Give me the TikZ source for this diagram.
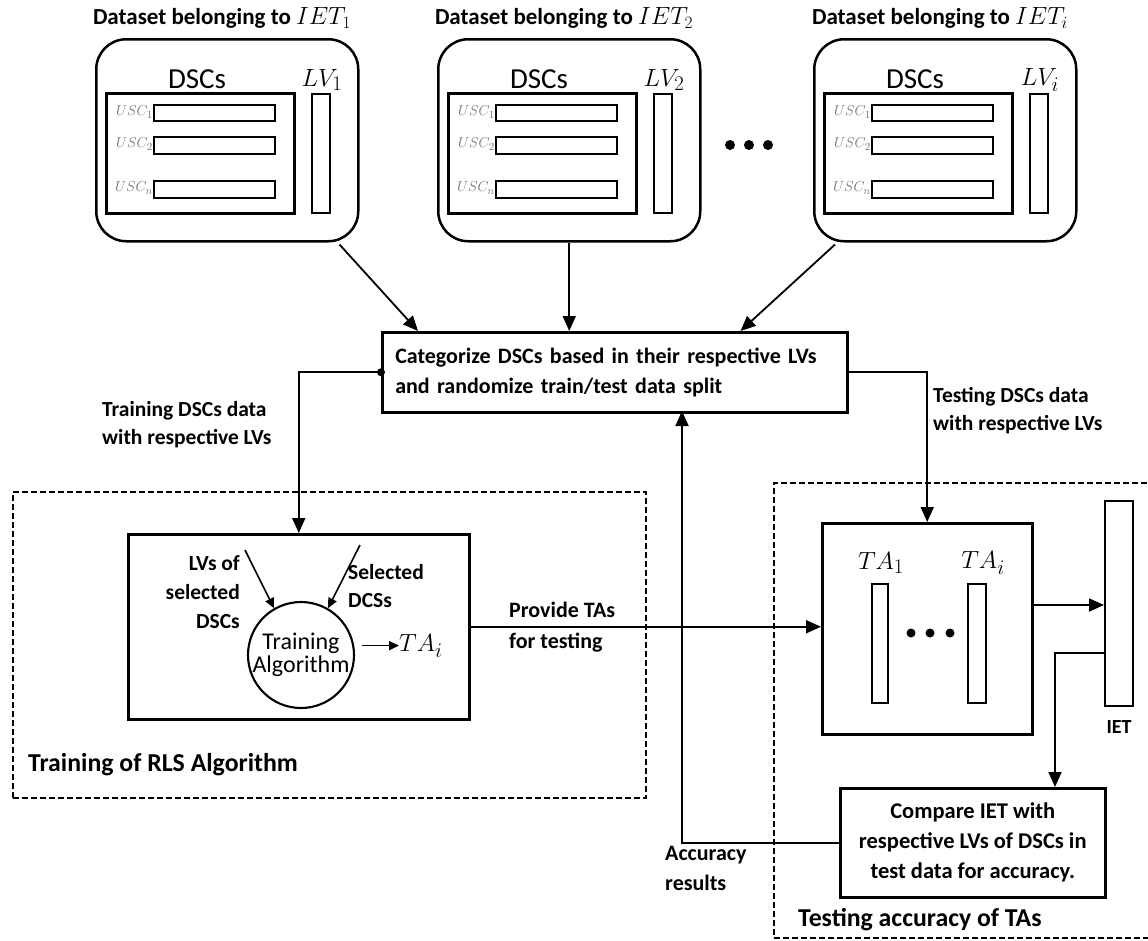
\documentclass[tikz,border=0pt]{standalone}
\usepackage{fontspec}
\setmainfont{Carlito}
\usetikzlibrary{arrows.meta,calc}

\begin{document}
\begin{tikzpicture}[x=1pt,y=-1pt,
  every node/.style={inner sep=0pt},
  frame/.style={draw, line width=2.5pt, anchor=north west, inner sep=0pt},
  rbox/.style={frame, rounded corners=30pt},
  bar/.style={draw, line width=2.1pt, anchor=north west, fill=white, inner sep=0pt},
  zone/.style={draw, line width=1.5pt, dash pattern=on 6pt off 3pt, anchor=north west},
  conn/.style={line width=1.8pt, -{Triangle[length=15pt,width=13pt]}},
  small conn/.style={line width=1.6pt, -{Triangle[length=10pt,width=9pt]}},
  lbl/.style={font=\fontsize{21.5}{28}\selectfont\bfseries},
  title/.style={font=\fontsize{23}{24}\selectfont\bfseries},
  zonelbl/.style={font=\fontsize{25.8}{30}\selectfont\bfseries, anchor=west},
  dsclbl/.style={font=\fontsize{29}{30}\selectfont},
  mathlbl/.style={font=\fontsize{28}{30}\selectfont},
  usc/.style={font=\fontsize{15}{16}\selectfont, text=black!55, anchor=east},
  dot/.style={circle, fill=black, minimum size=10pt, inner sep=0pt},
]
\useasboundingbox (0,0) rectangle (1148,940);
\fill[white] (0,0) rectangle (1148,940);
\clip (0,0) rectangle (1148,940);

% one labelled dataset: rounded frame, DSC block with USC rows, LV column
\newcommand{\datasetbox}[3]{%
  \node[rbox, minimum width=262pt, minimum height=202pt] (ds#1) at ({#2-10},38) {};
  \node[title] (ttl#1) at ({#2+117},18) {Dataset belonging to $IET_{#3}$};
  \node[frame, minimum width=188pt, minimum height=120pt] (dsc#1) at (#2,92) {};
  \node[dsclbl] (dsclbl#1) at ({#2+92},79) {DSCs};
  \node[bar, minimum width=18pt, minimum height=119pt] (lv#1) at ({#2+206},93) {};
  \node[mathlbl] (lvlbl#1) at ({#2+217},80) {$LV_{#3}$};
  \node[bar, minimum width=121pt, minimum height=16pt] (ua#1) at ({#2+48},104) {};
  \node[bar, minimum width=121pt, minimum height=17pt] (ub#1) at ({#2+48},136) {};
  \node[bar, minimum width=121pt, minimum height=17pt] (uc#1) at ({#2+48},180) {};
  \node[usc] (uala#1) at ({#2+48},112) {$USC_{1}$};
  \node[usc] (ulb#1) at ({#2+48},144) {$USC_{2}$};
  \node[usc] (ulc#1) at ({#2+48},188) {$USC_{n}$};
}

\datasetbox{1}{105}{1}
\datasetbox{2}{447}{2}
\datasetbox{3}{823}{i}

\node[dot] (da) at (730,145) {};
\node[dot] (db) at (749,145) {};
\node[dot] (dc) at (768,145) {};

% dashed stage frames
\node[zone, minimum width=633pt, minimum height=306pt] (trainzone) at (12,491) {};
\node[zonelbl] (trainzonelbl) at (28,765) {Training of RLS Algorithm};
\node[zone, minimum width=400pt, minimum height=455pt] (testzone) at (773,482) {};
\node[zonelbl] (testzonelbl) at (798,920) {Testing accuracy of TAs};

% split step
\node[frame, text width=439pt, inner xsep=13pt, minimum height=80pt, align=left,
      font=\fontsize{22}{30}\selectfont\bfseries] (cat) at (381,331)
  {Categorize DSCs based in their respective LVs\\and randomize train/test data split};

\draw[conn] ($(ds1.south east)+(-20,2)$) -- ($(cat.north west)+(37,0)$);
\draw[conn] (ds2.south) -- (ds2.south |- cat.north);
\draw[conn] ($(ds3.south west)+(22,2)$) -- ($(cat.north east)+(-108,0)$);

% training stage
\node[frame, minimum width=341pt, minimum height=185pt] (train) at (127,533) {};
\fill (cat.west) circle (4pt);
\draw[conn] (cat.west) -| (train.north);
\node[lbl, anchor=west, align=left] (trainlbl) at (102,425)
  {Training DSCs data\\with respective LVs};

\node[draw, circle, line width=2.1pt, minimum size=106pt, align=center,
      font=\fontsize{24}{23}\selectfont] (alg) at (301,655) {Training\\Algorithm};
\coordinate (lvsrc) at (245,550);
\coordinate (dscsrc) at (360,545);
\draw[small conn] (lvsrc) -- (alg.120);
\draw[small conn] (dscsrc) -- (alg.60);
\node[lbl, anchor=east, align=right, font=\fontsize{21.5}{29}\selectfont\bfseries] (lvofl) at (240,592)
  {LVs of\\selected\\DSCs};
\node[lbl, anchor=west, align=left, font=\fontsize{21.5}{28}\selectfont\bfseries] (sell) at (348,586)
  {Selected\\DCSs};
\node[anchor=west, font=\fontsize{32}{34}\selectfont] (tai) at (399,646) {$TA_i$};
\draw[small conn, shorten <=8pt] (alg.10) -- (tai.west |- alg.10);

% testing stage
\node[frame, minimum width=210pt, minimum height=211pt] (test) at (821,522) {};
\draw[conn] (train.east) -- (train.east -| test.west);
\node[lbl, anchor=west, align=left, font=\fontsize{22}{31}\selectfont\bfseries] (provl) at (509,627)
  {Provide TAs\\for testing};

\draw[conn] (cat.east) -| (test.north);
\node[lbl, anchor=west, align=left] (testlbl) at (933,411)
  {Testing DSCs data\\with respective LVs};

\node[bar, minimum width=16pt, minimum height=119pt] (ta1) at (871,583) {};
\node[bar, minimum width=18pt, minimum height=119pt] (tan) at (967,583) {};
\node[mathlbl] (ta1l) at (881,563) {$TA_1$};
\node[mathlbl] (tanl) at (983,563) {$TA_i$};
\node[dot, minimum size=9pt] (ea) at (911,633) {};
\node[dot, minimum size=9pt] (eb) at (930,633) {};
\node[dot, minimum size=9pt] (ec) at (950,633) {};

\node[bar, minimum width=28pt, minimum height=205pt] (iet) at (1104,500) {};
\node[lbl, font=\fontsize{20}{24}\selectfont\bfseries] (ietl) at (1119,727) {IET};
\coordinate (tout) at (1031,605);
\draw[conn] (tout) -- (tout -| iet.west);

\node[frame, minimum width=265pt, minimum height=109pt, align=center,
      font=\fontsize{22.5}{30}\selectfont\bfseries] (cmp) at (839,787)
  {Compare IET with\\respective LVs of DSCs in\\test data for accuracy.};
\coordinate (ietout) at (1104,653);
\coordinate (cmpin) at (1055,787);
\draw[conn] (ietout) -| (cmpin);

\coordinate (catin) at (682,411);
\draw[conn] (cmp.west) -| (catin);
\node[lbl, anchor=west, align=left, font=\fontsize{22}{30}\selectfont\bfseries] (accl) at (665,868)
  {Accuracy\\results};
\end{tikzpicture}
\end{document}
